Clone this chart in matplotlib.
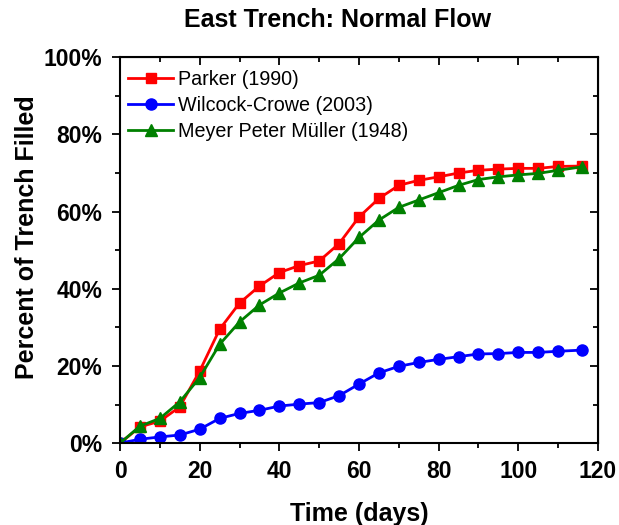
import matplotlib.pyplot as plt
from matplotlib.ticker import MultipleLocator, PercentFormatter

plt.rcParams['font.family'] = ['Liberation Sans', 'DejaVu Sans']

days = [0, 5, 10, 15, 20, 25, 30, 35, 40, 45, 50, 55, 60, 65, 70, 75, 80, 85,
        90, 95, 100, 105, 110, 116]
parker = [0, 4.2, 5.7, 9.4, 18.7, 29.5, 36.3, 40.7, 44.2, 46.0, 47.2, 51.7,
          58.6, 63.4, 66.8, 68.1, 69.0, 70.0, 70.7, 71.0, 71.2, 71.2, 71.7, 71.8]
wilcock = [0, 1.0, 1.6, 2.1, 3.6, 6.4, 7.7, 8.5, 9.6, 10.1, 10.5, 12.3, 15.3,
           18.2, 19.9, 20.9, 21.7, 22.4, 23.1, 23.2, 23.5, 23.5, 23.8, 24.1]
mpm = [0, 4.4, 6.4, 10.7, 17.0, 25.6, 31.4, 35.8, 38.9, 41.5, 43.5, 47.8,
       53.3, 57.8, 61.1, 63.0, 64.9, 66.8, 68.3, 69.0, 69.5, 69.9, 70.7, 71.6]

fig = plt.figure(figsize=(6.19, 5.25), dpi=100)
ax = fig.add_axes([0.194, 0.156, 0.772, 0.735])

ax.plot(days, parker, '-s', color='#ff0000', lw=2, ms=7.5, label='Parker (1990)')
ax.plot(days, wilcock, '-o', color='#0000ff', lw=2, ms=8, label='Wilcock-Crowe (2003)')
ax.plot(days, mpm, '-^', color='#008000', lw=2, ms=8.5, label='Meyer Peter Müller (1948)')

ax.set_xlim(0, 120)
ax.set_ylim(0, 100)
ax.xaxis.set_major_locator(MultipleLocator(20))
ax.xaxis.set_minor_locator(MultipleLocator(10))
ax.yaxis.set_major_locator(MultipleLocator(20))
ax.yaxis.set_minor_locator(MultipleLocator(10))
ax.yaxis.set_major_formatter(PercentFormatter(decimals=0))

for s in ax.spines.values():
    s.set_linewidth(1.5)
ax.tick_params(which='both', width=1.3, labelsize=16.5)
ax.tick_params(which='major', length=6)
ax.tick_params(which='minor', length=3.5)
ax.tick_params(axis='x', which='major', pad=6)
ax.tick_params(axis='y', which='major', pad=7)
ax.tick_params(which='both', direction='out', bottom=True, left=True)
for lab in ax.get_xticklabels() + ax.get_yticklabels():
    lab.set_fontweight('bold')

# mirrored inward ticks on top and right
axt = ax.secondary_xaxis('top')
axt.xaxis.set_major_locator(MultipleLocator(20))
axt.xaxis.set_minor_locator(MultipleLocator(10))
axt.tick_params(which='both', direction='in', labeltop=False, width=1.3)
axt.tick_params(which='major', length=6)
axt.tick_params(which='minor', length=3.5)
axr = ax.secondary_yaxis('right')
axr.yaxis.set_major_locator(MultipleLocator(20))
axr.yaxis.set_minor_locator(MultipleLocator(10))
axr.tick_params(which='both', direction='in', labelright=False, width=1.3)
axr.tick_params(which='major', length=6)
axr.tick_params(which='minor', length=3.5)

ax.set_xlabel('Time (days)', fontsize=18, fontweight='bold', labelpad=14)
ax.set_ylabel('Percent of Trench Filled', fontsize=18, fontweight='bold')
ax.yaxis.set_label_coords(-0.17, 0.534)
fig.suptitle('East Trench: Normal Flow', x=0.545, y=0.962, va='center',
             fontsize=18, fontweight='bold')

ax.legend(loc='upper left', bbox_to_anchor=(0, 0.987), frameon=False,
          fontsize=14.2, handlelength=2.3, handletextpad=0.25, borderpad=0.1,
          borderaxespad=0.3, labelspacing=0.35)

fig.savefig('out.png', dpi=100)
